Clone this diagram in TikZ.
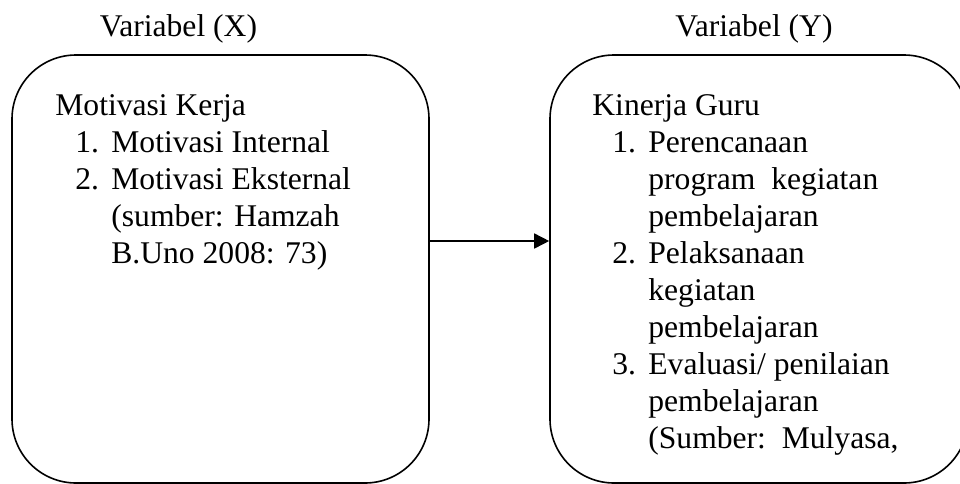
\documentclass[tikz,border=0pt]{standalone}
\usepackage{fontspec}
\setmainfont{Liberation Serif}
\usetikzlibrary{positioning,arrows.meta}
\tikzset{
  varbox/.style={draw, line width=0.8pt, rounded corners=32pt, minimum height=214pt, inner sep=0pt},
  boxtext/.style={anchor=base west, align=left, inner sep=0pt, font=\fontsize{15.8}{18.5}\selectfont},
  head/.style={anchor=base, inner sep=0pt, font=\fontsize{15.8}{18.5}\selectfont},
  sig/.style={-{Triangle[length=7.5pt, width=7.5pt]}, line width=0.8pt},
}
\newcommand{\num}[1]{\hspace*{10pt}\makebox[18pt][l]{#1}}
\newcommand{\cont}{\hspace*{28pt}}

\begin{document}
\begin{tikzpicture}[x=0.5pt, y=-0.5pt]
    \useasboundingbox (0,0) rectangle (960,483);
    % the two variable boxes
    \node[varbox, minimum width=208.5pt] (xbox) at (220.5,269) {};
    \node[varbox, minimum width=209pt] (ybox) at (759,269) {};
    % headings
    \node[head] (xhead) at (178.5,36) {Variabel (X)};
    \node[head] (yhead) at (754,36) {Variabel (Y)};
    % contents (base = last line)
    \node[boxtext] (xtext) at (55,263) {Motivasi Kerja\\
      \num{1.}Motivasi Internal\\
      \num{2.}Motivasi Eksternal\\
      \cont (sumber: Hamzah\\
      \cont B.Uno 2008: 73)};
    \node[boxtext] (ytext) at (592,448) {Kinerja Guru\\
      \num{1.}Perencanaan\\
      \cont program\ \ kegiatan\\
      \cont pembelajaran\\
      \num{2.}Pelaksanaan\\
      \cont kegiatan\\
      \cont pembelajaran\\
      \num{3.}Evaluasi/ penilaian\\
      \cont pembelajaran\\
      \cont (Sumber:\ \ Mulyasa,};
    \draw[sig] ([yshift=14pt]xbox.east) -- ([yshift=14pt]ybox.west);
\end{tikzpicture}
\end{document}
